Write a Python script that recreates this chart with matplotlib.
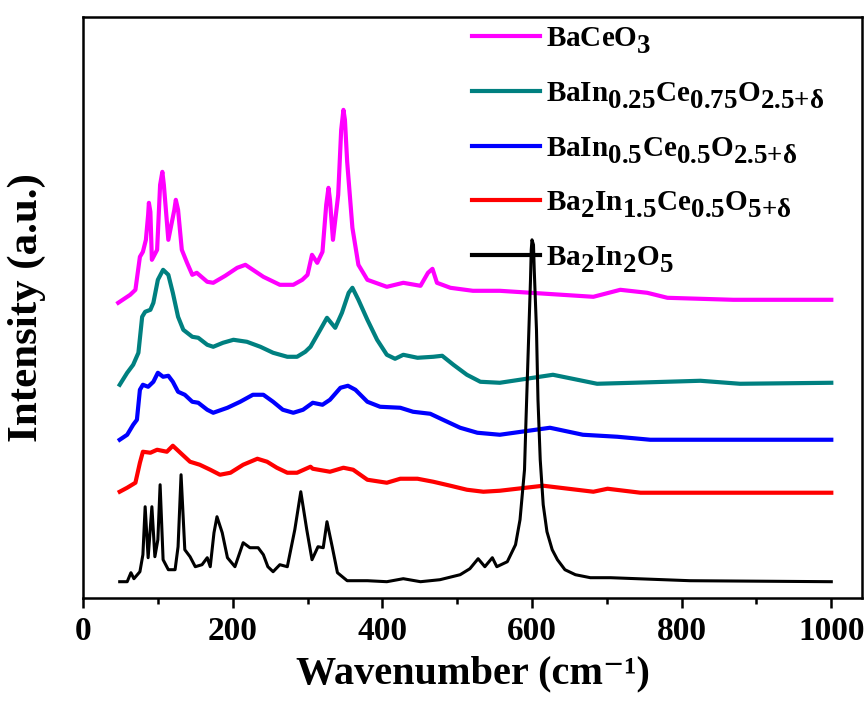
import matplotlib
matplotlib.use('Agg')
import matplotlib.pyplot as plt
import matplotlib._mathtext as mt

# big, well-lowered subscripts like in the original figure
mt.SHRINK_FACTOR = 0.92
mt.FontConstantsBase.sub1 = 0.55
mt.FontConstantsBase.sub2 = 0.75

plt.rcParams['font.family'] = ['Liberation Serif', 'DejaVu Serif']
plt.rcParams['font.weight'] = 'bold'
plt.rcParams['mathtext.fontset'] = 'custom'
plt.rcParams['mathtext.rm'] = 'Liberation Serif:bold'
plt.rcParams['mathtext.bf'] = 'Liberation Serif:bold'
plt.rcParams['mathtext.it'] = 'Liberation Serif:bold'
plt.rcParams['mathtext.default'] = 'bf'

# Raman spectra (stacked, arbitrary units)
labels = ['BaCeO$_3$',
          r'BaIn$_{0.25}$Ce$_{0.75}$O$_{2.5{+}\delta}$',
          r'BaIn$_{0.5}$Ce$_{0.5}$O$_{2.5{+}\delta}$',
          r'Ba$_2$In$_{1.5}$Ce$_{0.5}$O$_{5{+}\delta}$',
          'Ba$_2$In$_2$O$_5$']
colors = ['#ff00ff', '#008080', '#0000ff', '#ff0000', '#000000']

wn_baceo3 = [47, 63, 70, 76, 80, 84, 87, 88, 90, 92, 99, 103, 106, 108, 114, 122, 124, 127,
             132, 139, 146, 152, 166, 174, 190, 206, 217, 227, 241, 263, 281, 293, 300, 306,
             313, 320, 325, 328, 330, 334, 341, 345, 348, 350, 353, 360, 368, 380, 406, 428,
             451, 461, 467, 473, 491, 521, 557, 682, 718, 754, 781, 869, 1000]
i_baceo3 = [295, 303, 308, 341, 346, 358, 383, 395, 386, 338, 348, 413, 426, 413, 358, 388, 398, 388,
            348, 335, 323, 325, 316, 315, 322, 330, 333, 328, 321, 313, 313, 318, 323, 343,
            335, 346, 393, 410, 398, 358, 403, 468, 488, 478, 436, 370, 333, 318, 311, 315,
            312, 325, 329, 315, 310, 307, 307, 301, 308, 305, 300, 298, 298]

wn_in025 = [49, 59, 67, 74, 79, 83, 90, 94, 100, 107, 114, 120, 127, 134, 146, 154, 166, 174,
            187, 201, 219, 237, 254, 273, 286, 297, 304, 317, 326, 337, 346, 355, 360, 368,
            380, 393, 406, 417, 428, 447, 468, 480, 495, 513, 531, 557, 628, 687, 735, 825,
            878, 1000]
i_in025 = [213, 225, 233, 245, 281, 286, 288, 295, 318, 328, 323, 305, 281, 268, 261, 260, 253, 251,
           255, 258, 256, 251, 245, 241, 241, 246, 251, 268, 280, 270, 285, 305, 310, 298,
           278, 258, 243, 239, 243, 240, 241, 242, 233, 223, 216, 215, 223, 214, 215, 217,
           214, 215]

wn_in05 = [49, 59, 67, 72, 76, 80, 87, 94, 100, 107, 114, 120, 127, 136, 146, 154, 166, 174,
           193, 210, 227, 241, 254, 267, 281, 294, 307, 320, 330, 344, 354, 364, 380, 397,
           424, 441, 464, 481, 504, 527, 557, 624, 668, 714, 758, 1000]
i_in05 = [158, 163, 173, 178, 208, 213, 211, 216, 225, 221, 222, 216, 206, 203, 196, 195, 188, 185,
          190, 196, 203, 203, 196, 188, 185, 188, 195, 193, 198, 210, 212, 208, 196, 191,
          190, 186, 184, 178, 170, 165, 163, 170, 163, 161, 158, 158]

wn_in15 = [49, 59, 70, 76, 80, 90, 99, 112, 120, 130, 143, 156, 170, 183, 197, 214, 233, 246,
           259, 273, 286, 304, 307, 330, 348, 361, 380, 406, 424, 447, 468, 491, 513, 535,
           557, 615, 682, 701, 745, 1000]
i_in15 = [106, 110, 115, 135, 146, 145, 148, 146, 152, 145, 136, 133, 128, 123, 125, 133, 139, 136,
          130, 125, 125, 131, 129, 126, 130, 128, 118, 115, 119, 119, 116, 112, 108, 106,
          107, 112, 106, 109, 105, 105]

wn_ba2in2o5 = [49, 59, 64, 68, 76, 80, 83, 87, 92, 96, 100, 103, 107, 114, 123, 127, 131, 136,
               143, 150, 159, 166, 170, 175, 179, 186, 193, 203, 214, 223, 234, 241, 247, 254,
               263, 273, 283, 291, 299, 306, 314, 321, 326, 333, 340, 353, 380, 406, 428, 451,
               477, 504, 517, 528, 537, 547, 553, 567, 578, 584, 590, 592, 595, 598, 599, 600,
               602, 603, 606, 608, 611, 615, 620, 627, 634, 644, 658, 678, 705, 811, 1000]
i_ba2in2o5 = [16, 16, 25, 19, 26, 43, 91, 40, 91, 41, 58, 113, 38, 28, 28, 51, 123, 48,
              41, 31, 33, 40, 31, 65, 81, 65, 40, 31, 55, 50, 50, 43, 31, 26,
              33, 31, 68, 106, 68, 38, 51, 50, 76, 51, 25, 17, 17, 16, 19, 16,
              18, 23, 29, 39, 31, 40, 31, 36, 53, 78, 128, 178, 248, 318, 348, 358,
              353, 328, 268, 198, 138, 93, 66, 48, 38, 28, 23, 20, 20, 17, 16]

wns = [wn_baceo3, wn_in025, wn_in05, wn_in15, wn_ba2in2o5]
ints = [i_baceo3, i_in025, i_in05, i_in15, i_ba2in2o5]
widths = [3.0, 3.0, 3.0, 3.0, 2.2]

fig = plt.figure(figsize=(8.65, 7.04), dpi=100)
ax = fig.add_axes([0.096, 0.151, 0.9005, 0.825])

for x, y, c, lab, lw in zip(wns, ints, colors, labels, widths):
    ax.plot(x, y, color=c, lw=lw, label=lab)

ax.set_xlim(0, 1041)
ax.set_ylim(0, 581)
ax.set_xticks([0, 200, 400, 600, 800, 1000])
ax.set_xticks([100, 300, 500, 700, 900], minor=True)
ax.set_yticks([])
ax.tick_params(axis='x', which='major', length=7, width=1.8, labelsize=24, pad=6)
ax.tick_params(axis='x', which='minor', length=4, width=1.8)
for s in ax.spines.values():
    s.set_linewidth(1.8)

ax.set_xlabel('Wavenumber (cm\u207b\u00b9)', fontsize=29, fontweight='bold', labelpad=6)
ax.set_ylabel('Intensity (a.u.)', fontsize=31, fontweight='bold', labelpad=27)

leg = ax.legend(loc='upper left', bbox_to_anchor=(0.499, 0.985), frameon=False,
                fontsize=21, handlelength=2.35, labelspacing=0.82, borderaxespad=0,
                borderpad=0, handletextpad=0.2)
for h in leg.get_lines():
    h.set_linewidth(3.0)

plt.savefig('out.png', dpi=100)
